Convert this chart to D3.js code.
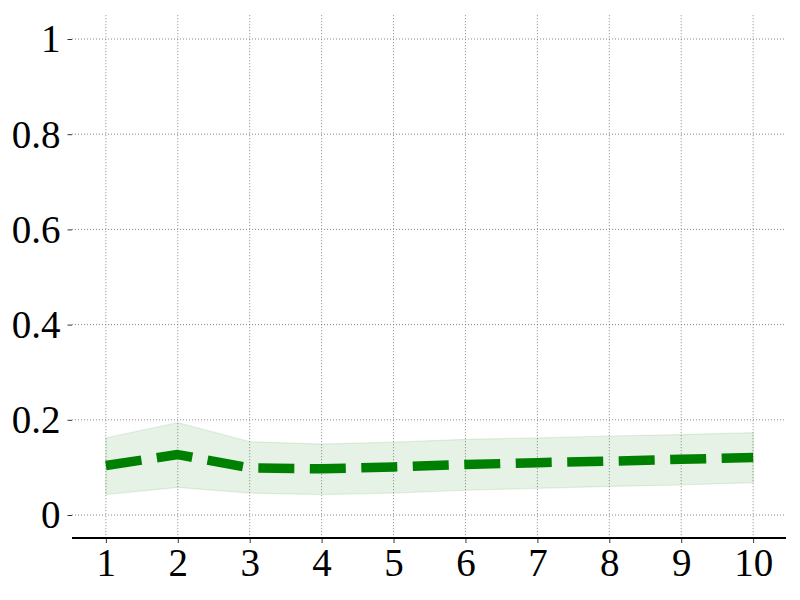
<!DOCTYPE html>
<html>
<head>
<meta charset="utf-8">
<script src="https://cdn.jsdelivr.net/npm/d3@7"></script>
<style>
  html, body { margin: 0; padding: 0; background: #fff; }
  svg { display: block; }
  text { font-family: "Liberation Serif", "DejaVu Serif", serif; fill: #000; }
</style>
</head>
<body>
<svg id="chart" width="800" height="600"></svg>
<script>
const xValues = [1, 2, 3, 4, 5, 6, 7, 8, 9, 10];
const meanValues = [0.104, 0.127, 0.099, 0.097, 0.101, 0.106, 0.110, 0.113, 0.117, 0.121];
const upperValues = [0.162, 0.194, 0.154, 0.149, 0.153, 0.159, 0.162, 0.166, 0.169, 0.173];
const lowerValues = [0.043, 0.058, 0.046, 0.043, 0.046, 0.052, 0.056, 0.060, 0.063, 0.068];
const xTicks = [1, 2, 3, 4, 5, 6, 7, 8, 9, 10];
const yTicks = [0, 0.2, 0.4, 0.6, 0.8, 1];
const yTickLabels = ["0", "0.2", "0.4", "0.6", "0.8", "1"];

const svg = d3.select("#chart");
const x = d3.scaleLinear().domain([0.55, 10.45]).range([73.5, 785.5]);
const y = d3.scaleLinear().domain([-0.05, 1.05]).range([538.8, 15.2]);

const data = xValues.map((v, i) => ({ x: v, m: meanValues[i], lo: lowerValues[i], hi: upperValues[i] }));

// grid
const grid = svg.append("g");
grid.selectAll("line.vg").data(xTicks).enter().append("line")
  .attr("x1", d => x(d)).attr("x2", d => x(d))
  .attr("y1", y.range()[1]).attr("y2", y.range()[0])
  .attr("stroke", "#7a7a7a").attr("stroke-width", 0.9).attr("stroke-dasharray", "1,2");
grid.selectAll("line.hg").data(yTicks).enter().append("line")
  .attr("x1", 72).attr("x2", x.range()[1])
  .attr("y1", d => y(d)).attr("y2", d => y(d))
  .attr("stroke", "#7a7a7a").attr("stroke-width", 0.9).attr("stroke-dasharray", "1,2");

// band
const area = d3.area().x(d => x(d.x)).y0(d => y(d.lo)).y1(d => y(d.hi));
svg.append("path").datum(data).attr("d", area)
  .attr("fill", "green").attr("fill-opacity", 0.1)
  .attr("stroke", "green").attr("stroke-opacity", 0.1).attr("stroke-width", 1.2);

// mean line
const line = d3.line().x(d => x(d.x)).y(d => y(d.m));
svg.append("path").datum(data).attr("d", line)
  .attr("fill", "none").attr("stroke", "#008000").attr("stroke-width", 9.5)
  .attr("stroke-dasharray", "36,15.5").attr("stroke-linejoin", "round");

// x axis
const xAxis = d3.axisBottom(x).tickValues(xTicks).tickSize(5).tickPadding(6).tickFormat(d3.format("d"));
const gx = svg.append("g").attr("transform", `translate(0,${538})`).call(xAxis);
gx.select(".domain").remove();
gx.selectAll(".tick line").attr("stroke", "#000").attr("stroke-width", 0.8);
gx.selectAll(".tick text").attr("font-size", 39).attr("font-family", "'Liberation Serif', serif").attr("fill", "#000").attr("dy", "0.68em");
svg.append("line").attr("x1", 72).attr("x2", 786).attr("y1", 538).attr("y2", 538)
  .attr("stroke", "#000").attr("stroke-width", 2);

// y axis
const yAxis = d3.axisLeft(y).tickValues(yTicks).tickSize(4.5).tickPadding(7).tickFormat((d, i) => yTickLabels[i]);
const gy = svg.append("g").attr("transform", `translate(72,0)`).call(yAxis);
gy.select(".domain").remove();
gy.selectAll(".tick line").attr("stroke", "#000").attr("stroke-width", 0.8);
gy.selectAll(".tick text").attr("font-size", 39).attr("font-family", "'Liberation Serif', serif").attr("fill", "#000").attr("dy", "0.33em");
</script>
</body>
</html>
